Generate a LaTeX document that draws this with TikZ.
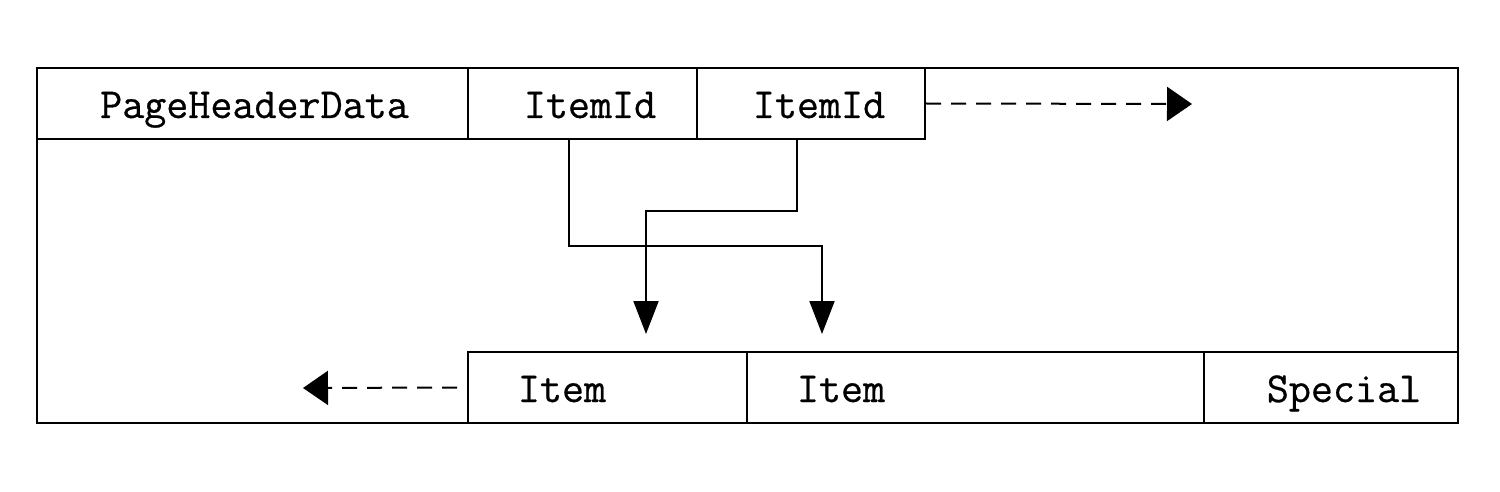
\documentclass[tikz,border=0pt]{standalone}
\usepackage{fontspec}
\newfontfamily\cour[FakeBold=0.6]{Latin Modern Mono}
\usetikzlibrary{arrows.meta,fit,calc}
\begin{document}
\begin{tikzpicture}[x=0.5pt,y=-0.5pt,
  line width=1pt,
  cell/.style={draw,inner sep=0pt,line width=1pt},
  lbl/.style={inner sep=0pt,anchor=base,font=\cour\fontsize{21.4}{24}\selectfont},
  conn/.style={line width=1pt,-{Triangle[length=16.5pt,width=12.5pt]}},
  dconn/.style={line width=1pt,dash pattern=on 7.5pt off 5pt,-{Triangle[length=12.5pt,width=17pt]}}]
\useasboundingbox (0,0) rectangle (1500,492);
% outer page
\node[cell,fit={(37,68) (1458,423)}] (page) {};
% header row
\node[cell,fit={(37,68) (468,139)}] (hdr) {};
\node[cell,fit={(468,68) (697,139)}] (id1) {};
\node[cell,fit={(697,68) (925,139)}] (id2) {};
% item row
\node[cell,fit={(468,352) (747,423)}] (it1) {};
\node[cell,fit={(747,352) (1204,423)}] (it2) {};
\node[cell,fit={(1204,352) (1458,423)}] (sp) {};
% labels
\node[lbl] (lhdr) at (254.5,118) {PageHeaderData};
\node[lbl] (lid1) at (590,118) {ItemId};
\node[lbl] (lid2) at (819,118) {ItemId};
\node[lbl] (lit1) at (562,402) {Item};
\node[lbl] (lit2) at (841,402) {Item};
\node[lbl] (lsp) at (1344,402) {Special};
% arrow end points
\coordinate (t1) at (822,334);
\coordinate (t2) at (646,334);
\coordinate (ta) at (1192,104);
\coordinate (tb) at (303,388);
% connectors
\draw[conn] (id1.south west) ++(102,0) -- ++(0,106) -| (t1);
\draw[conn] (id2.south west) ++(101,0) -- ++(0,71) -| (t2);
\draw[dconn] (id2.east) -- (ta);
\draw[dconn] ($(it1.west)+(-10,0)$) -- (tb);
\end{tikzpicture}
\end{document}
